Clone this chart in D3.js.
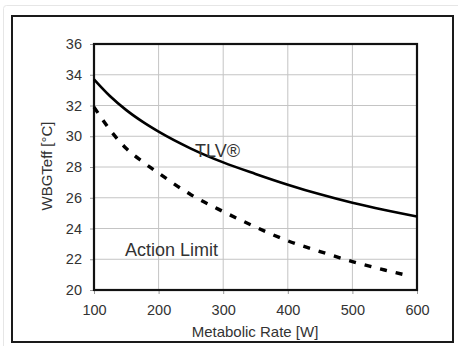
<!DOCTYPE html>
<html>
<head>
<meta charset="utf-8">
<script src="https://cdn.jsdelivr.net/npm/d3@7"></script>
<style>
  html, body { margin: 0; padding: 0; background: #fff; }
  svg { display: block; }
  text { font-family: "Liberation Sans", Arial, sans-serif; fill: #333; }
</style>
</head>
<body>
<svg id="chart" width="458" height="346"></svg>
<script>
// Data
const metabolicRate = [100, 125, 150, 175, 200, 250, 300, 350, 400, 450, 500, 550, 600];
const tlvValues     = [33.7, 32.6, 31.7, 30.95, 30.3, 29.2, 28.3, 27.55, 26.85, 26.22, 25.67, 25.2, 24.78];
const actionRate    = [100, 125, 150, 175, 200, 250, 300, 350, 400, 450, 500, 550, 585];
const actionValues  = [31.9, 30.4, 29.2, 28.35, 27.6, 26.2, 25.1, 24.1, 23.2, 22.5, 21.85, 21.3, 20.95];
const xTicks = [100, 200, 300, 400, 500, 600];
const yTicks = [20, 22, 24, 26, 28, 30, 32, 34, 36];
const xTitle = "Metabolic Rate [W]";
const yTitle = "WBGTeff [°C]";
const tlvLabel = "TLV®";
const actionLabel = "Action Limit";

(function () {
const svg = d3.select("#chart");

// outer decorations
svg.append("rect").attr("x", 3.5).attr("y", 5.5).attr("width", 460).attr("height", 345)
  .attr("fill", "none").attr("stroke", "#e6e6e6").attr("stroke-width", 1).attr("rx", 3);
svg.append("rect").attr("x", 12).attr("y", 16).attr("width", 441).attr("height", 326)
  .attr("fill", "none").attr("stroke", "#1a1a1a").attr("stroke-width", 2);

const pL = 94, pR = 417, pT = 44, pB = 290;
const x = d3.scaleLinear().domain([100, 600]).range([pL, pR]);
const y = d3.scaleLinear().domain([20, 36]).range([pB, pT]);

// gridlines
const grid = svg.append("g");
grid.selectAll("line.v").data(xTicks).join("line").attr("class", "v")
  .attr("x1", d => x(d)).attr("x2", d => x(d)).attr("y1", pT).attr("y2", pB)
  .attr("stroke", "#c4c4c4").attr("stroke-width", 1);
grid.selectAll("line.h").data(yTicks).join("line").attr("class", "h")
  .attr("x1", pL).attr("x2", pR).attr("y1", d => y(d)).attr("y2", d => y(d))
  .attr("stroke", "#c4c4c4").attr("stroke-width", 1);

// axes
const xAxis = svg.append("g").attr("transform", `translate(0,${pB})`)
  .call(d3.axisBottom(x).tickValues(xTicks).tickSize(4).tickPadding(11));
const yAxis = svg.append("g").attr("transform", `translate(${pL},0)`)
  .call(d3.axisLeft(y).tickValues(yTicks).tickSize(4).tickPadding(8));
[xAxis, yAxis].forEach(a => {
  a.select(".domain").remove();
  a.selectAll(".tick line").attr("stroke", "#999");
  a.selectAll("text").style("font-family", '"Liberation Sans", Arial, sans-serif')
    .style("font-size", "14.5px").attr("fill", "#333");
});

// plot frame
svg.append("rect").attr("x", pL).attr("y", pT).attr("width", pR - pL).attr("height", pB - pT)
  .attr("fill", "none").attr("stroke", "#111").attr("stroke-width", 2.2);

// lines
const line = d3.line().x(d => x(d[0])).y(d => y(d[1])).curve(d3.curveMonotoneX);
svg.append("path").datum(d3.zip(metabolicRate, tlvValues)).attr("d", line)
  .attr("fill", "none").attr("stroke", "#000").attr("stroke-width", 2.6);
svg.append("path").datum(d3.zip(actionRate, actionValues)).attr("d", line)
  .attr("fill", "none").attr("stroke", "#000").attr("stroke-width", 3.4)
  .attr("stroke-dasharray", "7,9");

// labels
svg.append("text").attr("x", 195).attr("y", 157).text(tlvLabel)
  .style("font-size", "18px");
svg.append("text").attr("x", 125).attr("y", 256).text(actionLabel)
  .style("font-size", "18px");

// titles
svg.append("text").attr("x", 255).attr("y", 337).attr("text-anchor", "middle")
  .style("font-size", "15px").text(xTitle);
svg.append("text").attr("transform", "translate(52,166) rotate(-90)").attr("text-anchor", "middle")
  .style("font-size", "15px").text(yTitle);
})();
</script>
</body>
</html>
